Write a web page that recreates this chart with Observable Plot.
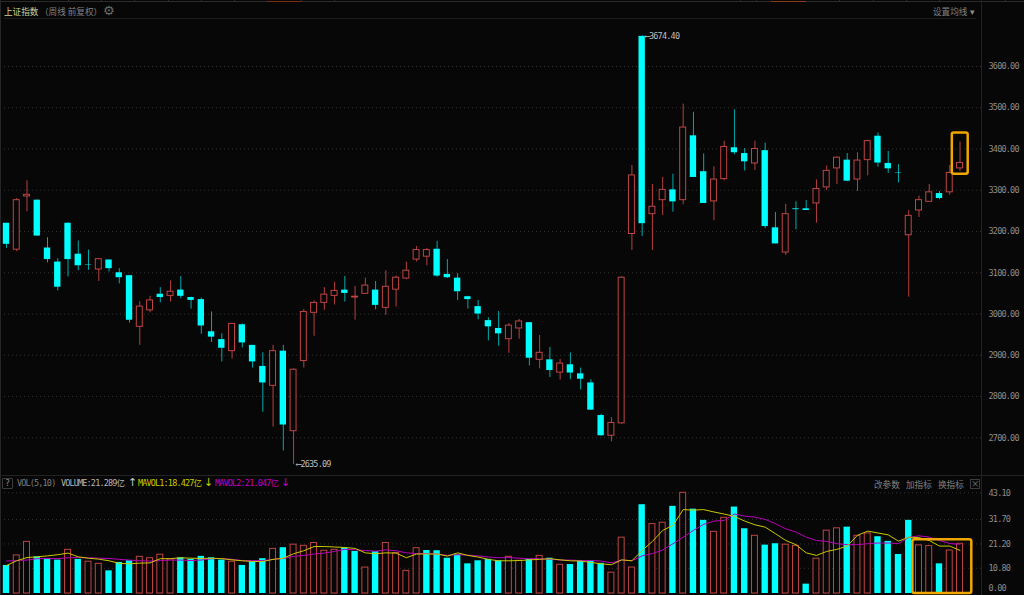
<!DOCTYPE html>
<html><head><meta charset="utf-8">
<script src="https://cdn.jsdelivr.net/npm/d3@7"></script>
<script src="https://cdn.jsdelivr.net/npm/@observablehq/plot@0.6"></script>
<style>
html,body{margin:0;padding:0;background:#070707;overflow:hidden}
#stage{position:relative;width:1024px;height:595px;background:#070707;overflow:hidden}
#price,#volume{position:absolute;left:0}
#price{top:0}#volume{top:475px}
svg{background:transparent!important;display:block}
svg g[aria-label="y-axis tick label"] text{letter-spacing:-.8px}
svg g[aria-label="text"] text{letter-spacing:-.8px}
.t{position:absolute;white-space:nowrap;line-height:12px;font-size:8.6px;font-family:"Noto Sans CJK SC",sans-serif}
.m{font-family:"DejaVu Sans Mono","Noto Sans CJK SC",monospace;font-size:8.5px;letter-spacing:-.85px}
.a{font-family:"DejaVu Sans";font-size:11px;letter-spacing:0}
.l{position:absolute;background:#262626}
</style></head><body>
<div id="stage"><div id="price"></div><div id="volume"></div></div>
<script>
const openP=[3220,3156,3285,3276,3160,3126,3220,3145,3119,3108,3131,3100,3093,2969,3009,3048,3044,3058,3040,3035,2957,2938,2910,2974,2924,2873,2826,2910,2716,2886,3003,3027,3044,
3058,3040,3049,3058,3015,3059,3086,3132,3139,3157,3096,3087,3042,3018,2984,2965,2939,2965,2979,2889,2889,2858,2877,2855,2833,2754,2705,2735,
3194,3673,3242,3276,3301,3276,3432,3345,3273,3327,3403,3389,3365,3396,3209,3149,3255,3255,3268,3307,3353,3373,3326,3373,3431,3365,3343,3191,3251,3272,3292,3295,3353];
const closeP=[3169,3276,3289,3189,3132,3065,3132,3117,3118,3133,3110,3088,2985,3018,3033,3040,3054,3043,3033,2971,2944,2917,2976,2930,2884,2833,2910,2731,2865,3005,3027,3047,3056,
3050,3042,3069,3021,3066,3088,3105,3155,3155,3092,3088,3054,3035,3000,2969,2952,2972,2982,2893,2906,2863,2880,2857,2842,2767,2705,2736,3088,
3336,3219,3260,3301,3272,3452,3331,3268,3326,3405,3391,3369,3400,3212,3170,3242,3253,3251,3303,3347,3379,3322,3372,3419,3366,3352,3342,3238,3276,3295,3280,3342,3366];
const highP=[3220,3280,3323,3276,3185,3134,3221,3177,3155,3133,3131,3110,3093,3030,3043,3064,3080,3091,3041,3039,3005,2952,2976,2976,2924,2906,2924,2924,2867,3011,3032,3064,3077,
3091,3067,3087,3079,3105,3092,3126,3164,3159,3176,3132,3098,3043,3033,2991,3006,2977,2987,2979,2948,2919,2890,2906,2869,2841,2757,2749,3090,
3360,3674.4,3314,3331,3339,3509,3489,3388,3357,3419,3495,3401,3419,3414,3246,3266,3272,3275,3325,3359,3381,3389,3391,3421,3439,3394,3362,3251,3286,3314,3297,3360,3417];
const lowP=[3159,3151,3248,3189,3124,3056,3090,3105,3106,3079,3102,3073,2978,2924,3003,3027,3029,3037,3012,2951,2931,2884,2891,2918,2869,2762,2726,2668,2635.09,2869,2946,3009,3022,
3029,2985,3049,3010,2997,3017,3083,3126,3117,3089,3086,3033,3012,2986,2935,2922,2905,2939,2874,2867,2846,2840,2841,2816,2767,2704,2690,2733,
3154,3188,3154,3239,3247,3265,3331,3268,3226,3323,3386,3347,3348,3207,3170,3142,3204,3251,3220,3299,3314,3321,3297,3335,3356,3341,3318,3041,3234,3271,3277,3288,3346];
const volumes=[12,16.3,22.1,15.7,14.7,14.3,18.7,14.6,13.6,12.7,9.7,13.3,14,15.7,15.1,16.6,14.6,15.3,14.6,15.9,15.3,14.3,13.6,12,13.6,14.9,19.1,19.6,20.9,20.4,21.6,18.3,18.7,
19.6,18,11.1,17.9,21.6,17.3,9.7,19.4,18.4,18.3,15.1,16.6,12.7,14,14.6,14,15.7,14,14.6,16.1,15.1,12.3,12.4,14,14,12.9,8.9,23.9,11.1,38,29.7,30.3,37.3,
43.1,36.1,31.3,26.4,32.4,37,27.7,24.7,20.7,21.3,20.9,20.4,4,14.9,26.9,27.9,28.4,24.7,25.7,24.3,22.3,16.7,31.3,20.6,20.3,12.7,18.4,21.289];
const volumeUp=[0,1,1,0,0,0,1,0,1,1,0,0,0,1,1,1,1,0,0,0,0,0,1,0,0,0,1,0,1,1,1,1,1,
0,0,1,0,1,1,1,1,0,0,0,0,0,0,0,0,1,1,0,1,0,1,0,0,0,0,1,1,1,0,1,1,0,
1,0,0,1,1,0,0,1,0,0,1,1,0,1,1,1,0,1,1,0,0,0,0,1,1,0,1,1];
const mavol1=[12,14,15.4,15.7,16.1,16.6,17.3,15.7,15.1,14.7,14,12.9,12.7,13,13.1,14.9,14.9,15.3,15.1,15,15.1,14.9,14.4,14,13.7,13.7,14.6,15.1,17,18.3,20.1,20.1,19.9,
19.7,19.3,17.4,17,17.4,17.3,15.3,16.9,16.9,16.9,16,17.4,16.3,15.6,14.6,14,14,14.1,14.4,14.6,14.9,14.4,14,13.9,13.3,12.7,12.3,14.4,14,18.4,22.3,27,29.1,
35.9,35.7,35.9,34.9,34,33,31,29.4,28.4,25.6,22.7,20.9,17.4,16.3,18,18.9,20.3,24.9,26.7,25.9,25.1,22.4,24.1,23.9,22.7,20.3,20.3,18.427];
const mavol2=[13.9,14.1,14.3,14.9,15,14.9,15.3,15.4,15.3,15.1,15,14.6,14.3,14,13.9,14.1,14.3,14.3,14.1,14.3,14.9,15,14.6,14.1,14.1,14.1,14.6,15,15.9,16.3,16.9,17.3,18,
18.9,18.7,18.4,18.1,18.7,18.3,17.4,17.1,17.1,16.9,16.3,16.6,16.4,16.1,15.6,15.3,15.4,15.1,14.9,14.9,14.7,14.3,14.3,14.1,14.1,13.9,13.1,14.3,14,16.1,17.1,18.6,21.3,
24.1,27,29.6,31,31.3,34,33.1,32.7,31.7,29.9,27.7,26.3,24.1,22.7,22.3,21.3,20.9,20.9,21.3,21.6,21.6,21.4,24,24.7,24.1,22.7,21.4,21.047];
const priceTicks=[2700,2800,2900,3000,3100,3200,3300,3400,3500,3600];
const volumeTicks=[10.8,21.2,31.7,43.1];
const priceNotes=[{i:62,v:3674.4,s:"⟵3674.40"},{i:28,v:2635.09,s:"⟵2635.09"}];
const priceBox=[{x1:92.25,x2:93.8,y1:3339,y2:3439}];
const volumeBox=[{x1:88.4,x2:94.15,y1:0,y2:23}];
const index=d3.range(openP.length);
const UP="#c04544",UPW="#b5403f",DOWN="#00ffff",WICKD="#00abab",BG="#070707",ORANGE="#efa700",GRID="#333333";
const halfBody=0.29;
const xScale={domain:[0,93],range:[6,959.5],axis:null};
const mono='"DejaVu Sans Mono","DejaVu Sans",monospace';
function axisMarks(vals,opt){return Plot.axisY(vals,Object.assign({anchor:"right",tickSize:0,tickPadding:6,tickFormat:d=>d.toFixed(2),label:null,fill:"#8c8c8c",fontSize:8.5,fontFamily:mono,textAnchor:"start"},opt||{}));}
const isUp=i=>closeP[i]>=openP[i];
const priceChart=Plot.plot({width:1024,height:475,marginTop:0,marginBottom:0,marginLeft:0,marginRight:42,
 x:xScale,y:{domain:[2700,3600],range:[437.3,66]},style:{background:"transparent"},
 marks:[
  Plot.ruleY(priceTicks,{stroke:GRID,strokeDasharray:"1,3"}),
  axisMarks(priceTicks),
  Plot.ruleX(index.filter(isUp),{x:d=>d,y1:i=>lowP[i],y2:i=>highP[i],stroke:UPW}),
  Plot.ruleX(index.filter(i=>!isUp(i)),{x:d=>d,y1:i=>lowP[i],y2:i=>highP[i],stroke:WICKD}),
  Plot.rect(index.filter(isUp),{x1:i=>i-halfBody,x2:i=>i+halfBody,y1:i=>openP[i],y2:i=>closeP[i],fill:BG,stroke:UP,strokeWidth:1}),
  Plot.rect(index.filter(i=>!isUp(i)),{x1:i=>i-halfBody-0.02,x2:i=>i+halfBody+0.02,y1:i=>openP[i],y2:i=>closeP[i],fill:DOWN}),
  Plot.text(priceNotes,{x:"i",y:"v",text:"s",dx:2.5,textAnchor:"start",fill:"#bdbdbd",fontSize:8.5,fontFamily:mono}),
  Plot.rect(priceBox,{x1:"x1",x2:"x2",y1:"y1",y2:"y2",fill:"none",stroke:ORANGE,strokeWidth:2.5,rx:2})
 ]});
document.getElementById("price").append(priceChart);
const volChart=Plot.plot({width:1024,height:120,marginTop:0,marginBottom:0,marginLeft:0,marginRight:42,
 x:xScale,y:{domain:[0,43.1],range:[118,17.3]},style:{background:"transparent"},
 marks:[
  Plot.ruleY(volumeTicks,{stroke:GRID,strokeDasharray:"1,3"}),
  axisMarks(volumeTicks),
  axisMarks([0],{dy:-5}),
  Plot.rect(index.filter(i=>volumeUp[i]),{x1:i=>i-halfBody,x2:i=>i+halfBody,y1:0,y2:i=>volumes[i],fill:BG,stroke:UP,strokeWidth:1}),
  Plot.rect(index.filter(i=>!volumeUp[i]),{x1:i=>i-halfBody-0.02,x2:i=>i+halfBody+0.02,y1:0,y2:i=>volumes[i],fill:DOWN}),
  Plot.line(index,{x:d=>d,y:i=>mavol2[i],stroke:"#b800b8",strokeWidth:1}),
  Plot.line(index,{x:d=>d,y:i=>mavol1[i],stroke:"#c9c900",strokeWidth:1}),
  Plot.rect(volumeBox,{x1:"x1",x2:"x2",y1:"y1",y2:"y2",fill:"none",stroke:ORANGE,strokeWidth:2.5,rx:2})
 ]});
document.getElementById("volume").append(volChart);

// frame furniture and header text
const stage=document.getElementById("stage");
function line(x,y,w,h,c){const d=document.createElement("div");d.className="l";d.style.cssText+=`left:${x}px;top:${y}px;width:${w}px;height:${h}px;`+(c?`background:${c};`:"");stage.append(d);}
function label(s,x,y,c,cls){const d=document.createElement("div");d.className="t "+(cls||"");d.textContent=s;d.style.left=x+"px";d.style.top=(y-6)+"px";d.style.color=c;stage.append(d);return d;}
line(0,1,1024,1,"#2b2b2b");
[34,68,101,134,168,201,234,301,334,740,756,839,873,906,939,1005].forEach(x=>line(x,0,1,2,"#2b2b2b"));
line(267,1,34,1,"#7a2e12");line(771,1,35,1,"#8a3a14");
line(4,18,972,1,"#1c1c1c");
line(0,0,1,595,"#262626");
line(981,0,1,595,"#222");
line(0,475,1024,1,"#222");
label("上证指数",4,11,"#d0d098");
label("（周线 前复权）",40,11,"#808080");
label("设置均线",933,11,"#808080");label("▾",970,11,"#8c8c8c");
label("改参数",874,484,"#808080");label("加指标",906,484,"#808080");label("换指标",938,484,"#808080");
const gear=label("⚙",103,11,"#6a6a6a");gear.style.fontFamily='"DejaVu Sans"';gear.style.fontSize="13px";
label("VOL(5,10)",17,483,"#7c7c7c","m");
label("VOLUME:21.289亿",61,483,"#b5b5b5","m");label("↑",128,483,"#c8c8c8","a");
label("MAVOL1:18.427亿",138,483,"#c9c900","m");label("↓",204,483,"#c9c900","a");
label("MAVOL2:21.047亿",215,483,"#c000c0","m");label("↓",281,483,"#c000c0","a");
label("?",5,483,"#8c8c8c","m");
const qb=document.createElement("div");qb.style.cssText="position:absolute;left:2px;top:478px;width:9px;height:9px;border:1px solid #3c3c3c;border-radius:1px";stage.append(qb);
const xb=document.createElement("div");xb.style.cssText="position:absolute;left:970px;top:479px;width:8px;height:8px;border:1px solid #3c3c3c";stage.append(xb);
label("×",971,483,"#7c7c7c");
</script></body></html>
